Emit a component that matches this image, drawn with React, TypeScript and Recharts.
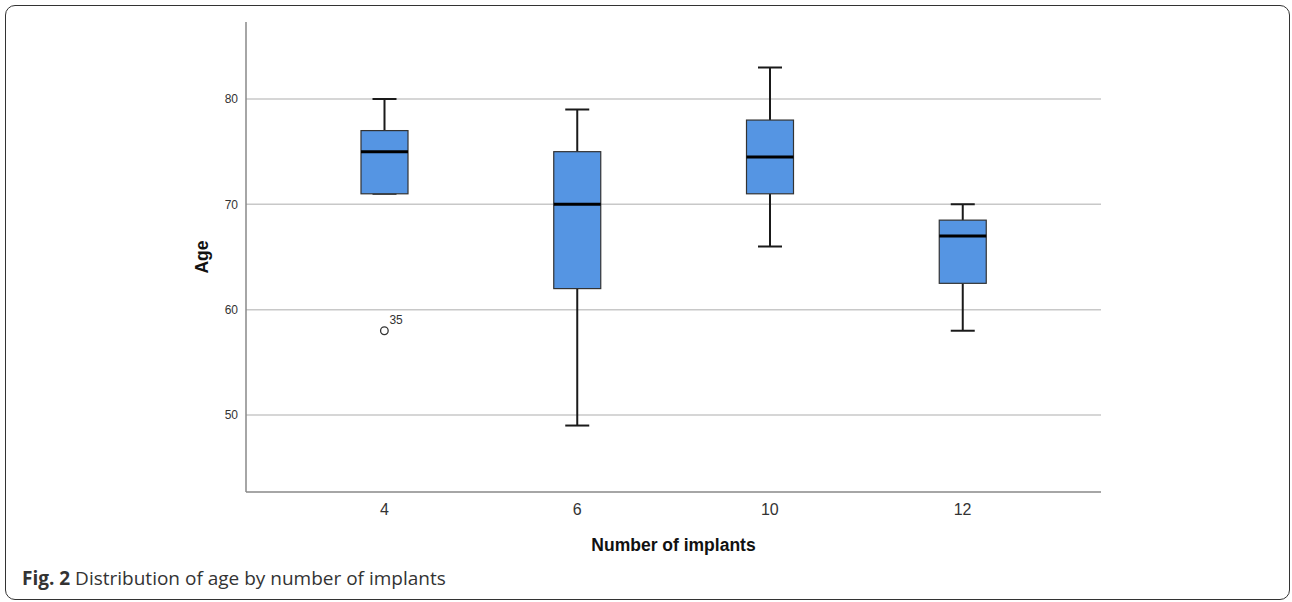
import React from 'react';
import { ComposedChart, Bar, Scatter, XAxis, YAxis, CartesianGrid, Label } from 'recharts';

// box plot values
const implants = ['4', '6', '10', '12'];
const minAge = [71, 49, 66, 58];
const q1Age = [71, 62, 71, 62.5];
const medianAge = [75, 70, 74.5, 67];
const q3Age = [77, 75, 78, 68.5];
const maxAge = [80, 79, 83, 70];
const outlierAge: (number | null)[] = [58, null, null, null];
const outlierCase: (string | null)[] = ['35', null, null, null];
const ageTicks = [50, 60, 70, 80];

const data = implants.map((name, i) => ({
  name,
  range: [minAge[i], maxAge[i]],
  min: minAge[i],
  q1: q1Age[i],
  median: medianAge[i],
  q3: q3Age[i],
  max: maxAge[i],
  outlier: outlierAge[i],
  caseId: outlierCase[i],
}));

const BoxShape = (props: any) => {
  const { x, y, width, height, payload } = props;
  const top = Math.min(y, y + height);
  const bottom = Math.max(y, y + height);
  const span = payload.max - payload.min;
  const py = (v: number) => bottom - ((v - payload.min) / span) * (bottom - top);
  const cx = x + width / 2;
  const cap = 24;
  return (
    <g>
      <line x1={cx} x2={cx} y1={py(payload.max)} y2={py(payload.q3)} stroke="#1a1a1a" strokeWidth={2} />
      <line x1={cx} x2={cx} y1={py(payload.q1)} y2={py(payload.min)} stroke="#1a1a1a" strokeWidth={2} />
      <line x1={cx - cap / 2} x2={cx + cap / 2} y1={py(payload.max)} y2={py(payload.max)} stroke="#1a1a1a" strokeWidth={2} />
      <line x1={cx - cap / 2} x2={cx + cap / 2} y1={py(payload.min)} y2={py(payload.min)} stroke="#1a1a1a" strokeWidth={2} />
      <rect
        x={x}
        y={py(payload.q3)}
        width={width}
        height={py(payload.q1) - py(payload.q3)}
        fill="#5595e3"
        stroke="#333"
        strokeWidth={1.2}
      />
      <line x1={x} x2={x + width} y1={py(payload.median)} y2={py(payload.median)} stroke="#000" strokeWidth={3} />
    </g>
  );
};

const OutlierShape = (props: any) => {
  const { cx, cy, payload } = props;
  if (payload.outlier == null || cx == null || cy == null) return <g />;
  return (
    <g>
      <circle cx={cx} cy={cy} r={3.8} fill="#fff" stroke="#333" strokeWidth={1.3} />
      <text x={cx + 5} y={cy - 7} fontSize={12} fill="#333" fontFamily="Liberation Sans, Arial, sans-serif">
        {payload.caseId}
      </text>
    </g>
  );
};

export default function App() {
  return (
    <div style={{ position: 'absolute', left: 0, top: 0, width: 1292, height: 602, background: '#fff' }}>
      <div
        style={{
          position: 'absolute',
          left: 5,
          top: 5,
          width: 1283,
          height: 593,
          border: '1.5px solid #333',
          borderRadius: 10,
        }}
      />
      <ComposedChart
        width={1292}
        height={602}
        data={data}
        margin={{ top: 22, right: 191, left: 0, bottom: 0 }}
        style={{ position: 'absolute', left: 0, top: 0 }}
      >
        <CartesianGrid vertical={false} horizontalValues={ageTicks} stroke="#c8c8c8" strokeWidth={1.5} />
        <XAxis
          dataKey="name"
          height={110}
          padding={{ left: 42, right: 42 }}
          tickLine={false}
          axisLine={{ stroke: '#888', strokeWidth: 1.5 }}
          tickMargin={6}
          tick={{ fontSize: 16, fill: '#333', fontFamily: 'Liberation Sans, Arial, sans-serif' }}
        >
          <Label
            value="Number of implants"
            position="insideBottom"
            offset={51}
            style={{ fontSize: 17.5, fontWeight: 'bold', fill: '#111', fontFamily: 'Liberation Sans, Arial, sans-serif' }}
          />
        </XAxis>
        <YAxis
          width={246}
          type="number"
          domain={[42.69, 87.31]}
          ticks={ageTicks}
          allowDataOverflow
          tickLine={false}
          axisLine={{ stroke: '#888', strokeWidth: 1.5 }}
          tick={{ fontSize: 12, fill: '#333', fontFamily: 'Liberation Sans, Arial, sans-serif' }}
        >
          <Label
            content={({ viewBox }: any) => {
              const lx = viewBox.x + 208;
              const ly = viewBox.y + viewBox.height / 2;
              return (
                <text
                  x={lx}
                  y={ly}
                  transform={`rotate(-90 ${lx} ${ly})`}
                  textAnchor="middle"
                  fontSize={17.5}
                  fontWeight="bold"
                  fill="#111"
                  fontFamily="Liberation Sans, Arial, sans-serif"
                >
                  Age
                </text>
              );
            }}
          />
        </YAxis>
        <Bar dataKey="range" barSize={47} shape={<BoxShape />} isAnimationActive={false} />
        <Scatter dataKey="outlier" shape={<OutlierShape />} isAnimationActive={false} />
      </ComposedChart>
      <div
        style={{
          position: 'absolute',
          left: 22,
          top: 567,
          fontFamily: '"Open Sans", sans-serif',
          fontSize: 19,
          color: '#333',
          whiteSpace: 'nowrap',
          lineHeight: '22px',
        }}
      >
        <b>Fig. 2</b> Distribution of age by number of implants
      </div>
    </div>
  );
}
